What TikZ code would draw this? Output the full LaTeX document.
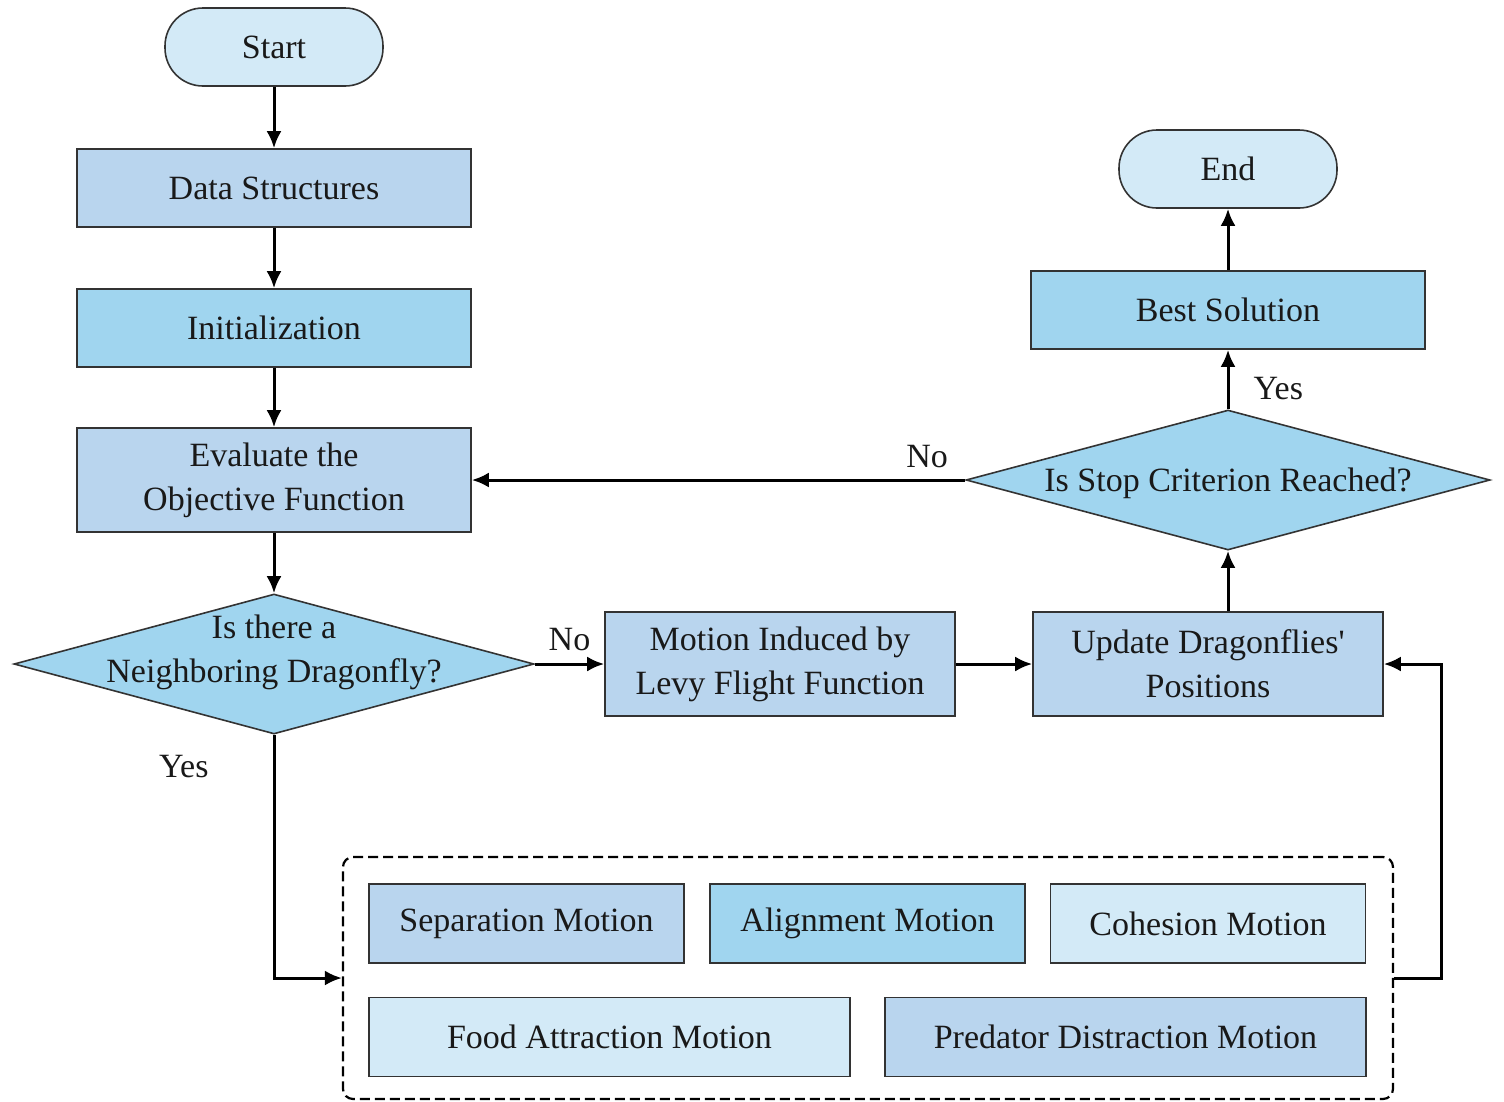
\documentclass[tikz,border=0pt]{standalone}
\usepackage{fontspec}
\setmainfont{Liberation Serif}
\usetikzlibrary{shapes.geometric,arrows.meta}
\definecolor{paleblue}{HTML}{D3EAF7}
\definecolor{midblue}{HTML}{B9D5EE}
\definecolor{skyblue}{HTML}{A0D5EF}

\begin{document}
\begin{tikzpicture}[x=1pt,y=-1pt,
   font=\fontsize{34}{44}\selectfont,
   box/.style={draw=black!80,line width=1.6pt,minimum width=394pt,minimum height=78pt,
     align=center,inner sep=0pt,text=black!90},
   terminal/.style={box,fill=paleblue,minimum width=218pt,rounded corners=38pt},
   decision/.style={diamond,draw=black!80,line width=1.6pt,fill=skyblue,inner sep=0pt,
     minimum height=140pt},
   motion/.style={box,minimum width=315pt,minimum height=79pt},
   group/.style={draw,dashed,dash pattern=on 10pt off 5pt,line width=2.2pt,rounded corners=10pt},
   flow/.style={-{Latex[length=17pt,width=15pt]},line width=3pt},
   tag/.style={inner sep=2pt,text=black!90}]
   \useasboundingbox (0,0) rectangle (1504,1101);
   % main column
   \node[terminal] (start) at (274,47) {Start};
   \node[box,fill=midblue] (data) at (274,188) {Data Structures};
   \node[box,fill=skyblue] (init) at (274,328) {Initialization};
   \node[box,fill=midblue,minimum height=104pt] (eval) at (274,480) {Evaluate the\\Objective Function};
   \node[decision,minimum width=520pt,
     label={[align=center,yshift=12pt,text=black!90]center:Is there a\\Neighboring Dragonfly?}] (nbr) at (274,664) {};
   % middle row
   \node[box,fill=midblue,minimum width=350pt,minimum height=104pt] (levy) at (780,664) {Motion Induced by\\Levy Flight Function};
   \node[box,fill=midblue,minimum width=350pt,minimum height=104pt] (update) at (1208,664) {Update Dragonflies\textquotesingle\\Positions};
   % right column
   \node[decision,minimum width=524pt,
     label={[text=black!90,yshift=-3pt]center:Is Stop Criterion Reached?}] (stop) at (1228,480) {};
   \node[box,fill=skyblue] (best) at (1228,310) {Best Solution};
   \node[terminal] (end) at (1228,169) {End};
   % swarm behaviours
   \node[group,minimum width=1050pt,minimum height=242pt] (swarm) at (868,978) {};
   \node[motion,fill=midblue] (sep) at (526.5,923.5) {Separation Motion};
   \node[motion,fill=skyblue] (align) at (867.5,923.5) {Alignment Motion};
   \node[motion,fill=paleblue] (coh) at (1208,923.5) {Cohesion Motion};
   \node[motion,fill=paleblue,minimum width=481pt] (food) at (609.5,1037) {Food Attraction Motion};
   \node[motion,fill=midblue,minimum width=481pt] (pred) at (1125.5,1037) {Predator Distraction Motion};
   \coordinate (loop) at (1441,978);
   % connectors
   \draw[flow] (start) -- (data);
   \draw[flow] (data) -- (init);
   \draw[flow] (init) -- (eval);
   \draw[flow] (eval) -- (nbr);
   \draw[flow] (nbr.east) -- node[tag,above=10pt]{No} (levy.west);
   \draw[flow] (levy) -- (update);
   \draw[flow] (update.north -| stop.south) -- (stop.south);
   \draw[flow] (stop.north) -- node[tag,pos=0.35,right=22pt]{Yes} (best.south);
   \draw[flow] (best) -- (end);
   \draw[flow] (stop.west) -- node[tag,pos=0.077,above=9pt]{No} (eval.east);
   \draw[flow] (nbr.south) |- node[tag,pos=0.065,left=62pt]{Yes} (swarm.west);
   \draw[flow] (swarm.east) -- (loop) |- (update.east);
\end{tikzpicture}
\end{document}
